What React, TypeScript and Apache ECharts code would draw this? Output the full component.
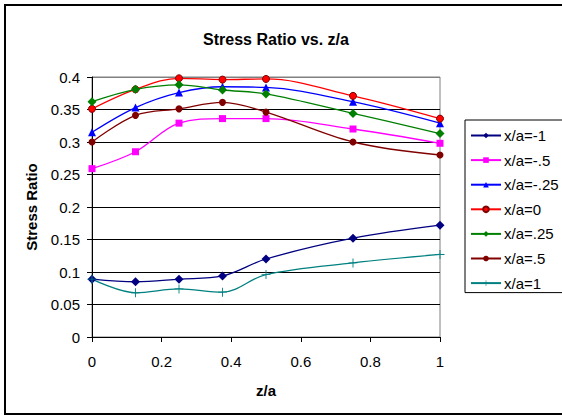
import React, { useEffect, useRef } from "react";
import * as echarts from "echarts";

// z/a positions along the depth
const zPositions = [0, 0.125, 0.25, 0.375, 0.5, 0.75, 1];

// Stress ratio for each x/a station
const xaMinus1 = [0.089, 0.085, 0.089, 0.094, 0.12, 0.152, 0.172];
const xaMinusHalf = [0.259, 0.285, 0.329, 0.336, 0.336, 0.32, 0.298];
const xaMinusQuarter = [0.315, 0.353, 0.376, 0.385, 0.384, 0.362, 0.329];
const xaZero = [0.351, 0.381, 0.398, 0.396, 0.397, 0.371, 0.336];
const xaQuarter = [0.362, 0.381, 0.388, 0.38, 0.374, 0.344, 0.313];
const xaHalf = [0.3, 0.341, 0.351, 0.361, 0.346, 0.3, 0.28];
const xaOne = [0.089, 0.068, 0.074, 0.069, 0.096, 0.114, 0.127];

const seriesNames = ["x/a=-1", "x/a=-.5", "x/a=-.25", "x/a=0", "x/a=.25", "x/a=.5", "x/a=1"];

const xTicks = [0, 0.2, 0.4, 0.6, 0.8, 1];

const FONT = "'Liberation Sans', Arial, sans-serif";
const PLUS = "path://M4.5,0H5.5V4.5H10V5.5H5.5V10H4.5V5.5H0V4.5H4.5Z";

export default function App() {
  const ref = useRef<HTMLDivElement>(null);

  useEffect(() => {
    if (!ref.current) return;
    const chart = echarts.init(ref.current, undefined, { renderer: "svg" });

    const pair = (vals: number[]) => zPositions.map((z, i) => [z, vals[i]]);

    const mk = (
      name: string,
      vals: number[],
      color: string,
      symbol: string,
      size: number,
      border?: string
    ) => ({
      name,
      type: "line",
      data: pair(vals),
      smooth: 0.35,
      symbol,
      symbolSize: size,
      lineStyle: { color, width: 1.3 },
      itemStyle: {
        color,
        borderColor: border || color,
        borderWidth: border ? 1 : 0,
      },
      emphasis: { disabled: true },
    });

    chart.setOption({
      animation: false,
      backgroundColor: "#ffffff",
      textStyle: { fontFamily: FONT, color: "#000" },
      title: {
        text: "Stress Ratio vs. z/a",
        left: 271,
        textAlign: "center",
        top: 26,
        textStyle: { fontFamily: FONT, fontSize: 16, fontWeight: "bold", color: "#000" },
      },
      graphic: [
        {
          type: "rect",
          shape: { x: 5, y: 5, width: 565, height: 409 },
          style: { fill: "none", stroke: "#000", lineWidth: 2 },
          silent: true,
          z: 100,
        },
      ],
      legend: {
        orient: "vertical",
        left: 465,
        top: 120,
        data: seriesNames,
        itemWidth: 30,
        itemHeight: 7,
        itemGap: 9.6,
        padding: [8, 12, 2, 5],
        borderColor: "#000",
        borderWidth: 1,
        backgroundColor: "#fff",
        textStyle: { fontFamily: FONT, fontSize: 15, color: "#000", padding: [0, 0, 0, -2] },
      },
      grid: {
        left: 92,
        right: 122,
        top: 77,
        bottom: 81,
        show: true,
        borderColor: "#808080",
        borderWidth: 1,
        backgroundColor: "#fff",
      },
      xAxis: {
        type: "value",
        min: 0,
        max: 1,
        interval: 0.2,
        name: "z/a",
        nameLocation: "middle",
        nameGap: 46,
        nameTextStyle: { fontFamily: FONT, fontSize: 15, fontWeight: "bold", color: "#000" },
        axisLine: { onZero: false, lineStyle: { color: "#000", width: 1 } },
        axisTick: { show: true, length: 5, lineStyle: { color: "#000" } },
        axisLabel: {
          fontFamily: FONT,
          fontSize: 15,
          color: "#000",
          margin: 17,
          formatter: (v: number) => (xTicks.some((t) => Math.abs(t - v) < 1e-9) ? String(+v.toFixed(1)) : ""),
        },
        splitLine: { show: false },
      },
      yAxis: {
        type: "value",
        min: 0,
        max: 0.4,
        interval: 0.05,
        name: "Stress Ratio",
        nameLocation: "middle",
        nameGap: 53,
        nameRotate: 90,
        nameTextStyle: { fontFamily: FONT, fontSize: 15, fontWeight: "bold", color: "#000" },
        axisLine: { show: true, lineStyle: { color: "#000", width: 1 } },
        axisTick: { show: true, length: 5, lineStyle: { color: "#000" } },
        axisLabel: {
          fontFamily: FONT,
          fontSize: 15,
          color: "#000",
          margin: 12,
          formatter: (v: number) => String(+v.toFixed(2)),
        },
        splitLine: {
          show: true,
          lineStyle: {
            color: ["#000", "#000", "#000", "#000", "#000", "#000", "#000", "#000", "#808080"],
            width: 1,
          },
        },
      },
      series: [
        mk(seriesNames[0], xaMinus1, "#000080", "diamond", 9),
        mk(seriesNames[1], xaMinusHalf, "#ff00ff", "rect", 7),
        mk(seriesNames[2], xaMinusQuarter, "#0000ff", "triangle", 8),
        mk(seriesNames[3], xaZero, "#ff0000", "circle", 7, "#800000"),
        mk(seriesNames[4], xaQuarter, "#008000", "diamond", 9),
        mk(seriesNames[5], xaHalf, "#800000", "circle", 7),
        mk(seriesNames[6], xaOne, "#008080", PLUS, 9),
      ],
    });

    return () => chart.dispose();
  }, []);

  return (
    <div
      ref={ref}
      style={{ position: "fixed", left: 0, top: 0, width: 562, height: 418 }}
    />
  );
}
